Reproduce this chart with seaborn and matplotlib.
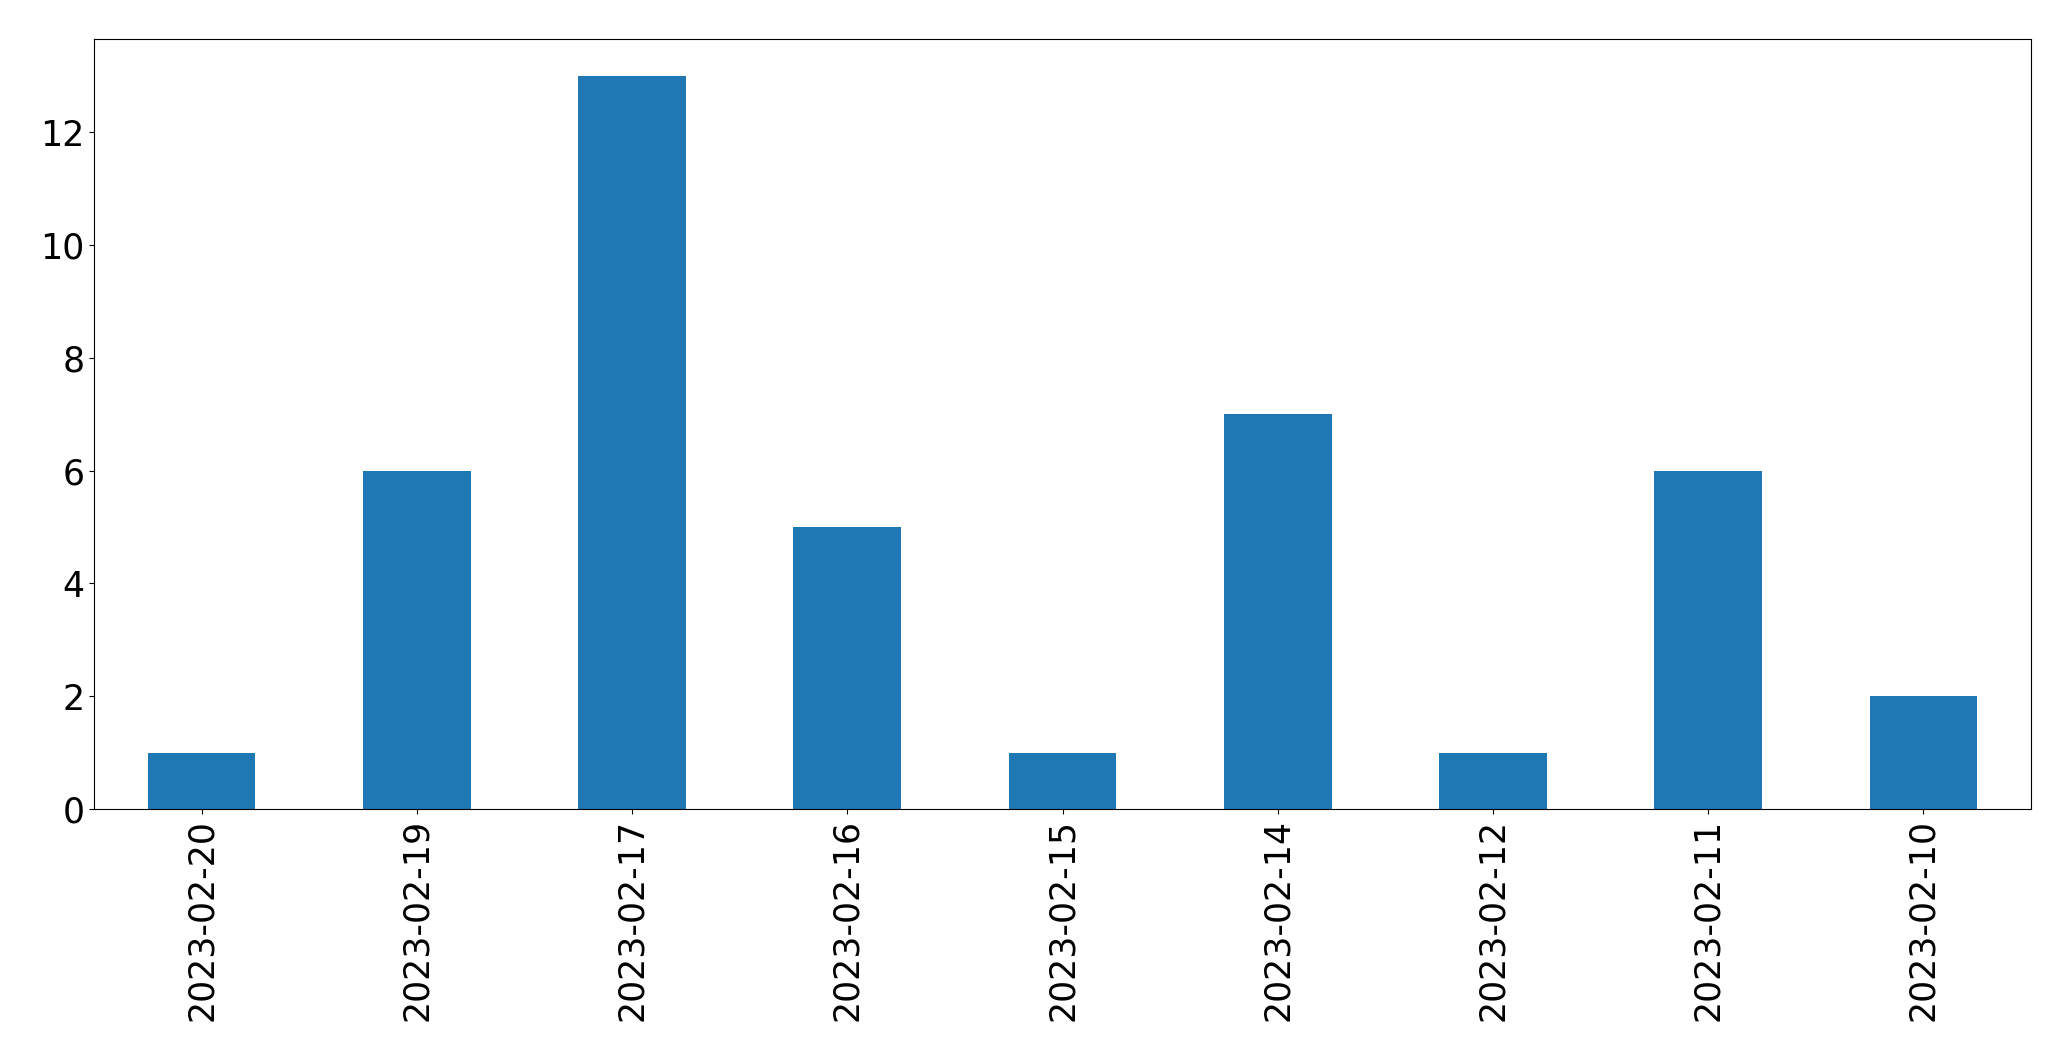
import matplotlib
matplotlib.use("Agg")
import matplotlib.pyplot as plt
import seaborn as sns
import pandas as pd

dates = ["2023-02-20", "2023-02-19", "2023-02-17", "2023-02-16", "2023-02-15",
         "2023-02-14", "2023-02-12", "2023-02-11", "2023-02-10"]
counts = [1, 6, 13, 5, 1, 7, 1, 6, 2]

df = pd.DataFrame({"date": dates, "count": counts})

sns.set_style("ticks")
plt.rcParams["font.family"] = ["DejaVu Sans"]
plt.rcParams["xtick.color"] = "black"
plt.rcParams["ytick.color"] = "black"
plt.rcParams["text.color"] = "black"
plt.rcParams["axes.labelcolor"] = "black"

fig = plt.figure(figsize=(20.71, 10.61), dpi=100)
ax = fig.add_axes([94 / 2071, 1 - 809 / 1061, (2031 - 94) / 2071, (809 - 39) / 1061])
sns.barplot(data=df, x="date", y="count", color="#1f77b4", saturation=1,
            width=0.5, ax=ax, order=dates, linewidth=0)
ax.set_xlim(-0.5, len(dates) - 0.5)
ax.set_ylim(0, 13.65)
ax.set_xlabel("")
ax.set_ylabel("")
ax.tick_params(axis="x", labelrotation=90, labelsize=25, length=3.5, width=0.8,
               colors="black")
ax.tick_params(axis="y", labelsize=25, length=3.5, width=0.8, colors="black")
for s in ax.spines.values():
    s.set_visible(True)
    s.set_linewidth(0.8)
    s.set_color("black")
fig.savefig("out.png", dpi=100)
